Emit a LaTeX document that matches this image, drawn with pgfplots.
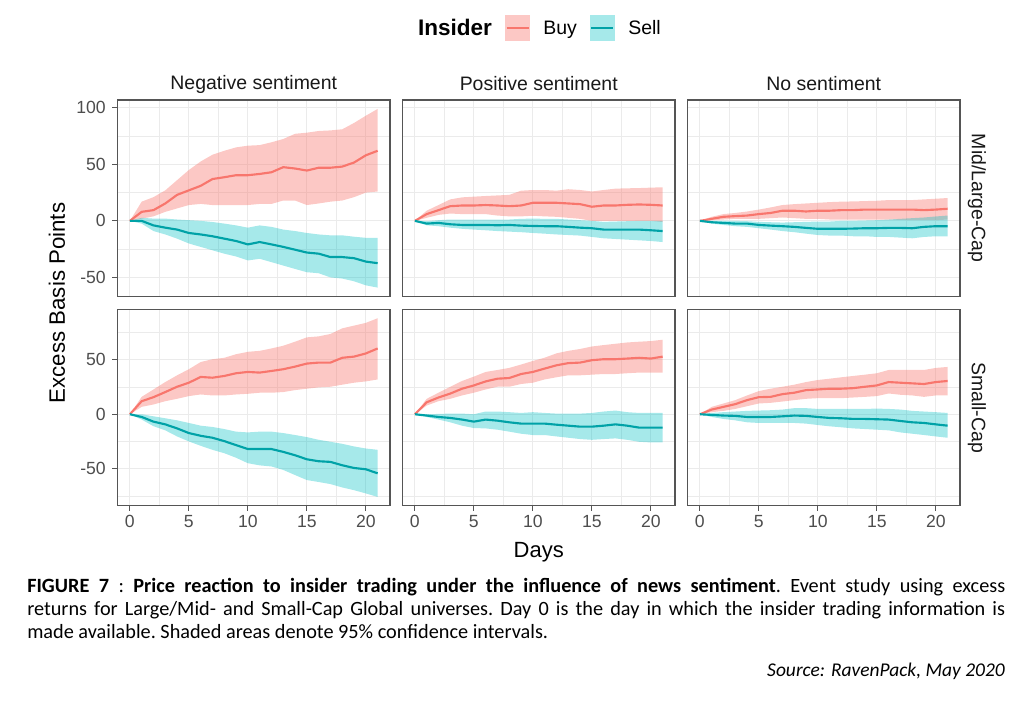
\documentclass[border=0pt]{standalone}
\usepackage{pgfplots}
\pgfplotsset{compat=1.18}
\usepackage{pgfplotstable}
\usepackage{fontspec}
\setmainfont{Liberation Sans}
\newfontfamily\capfont{Carlito}
\definecolor{buy}{HTML}{F8766D}
\definecolor{sell}{HTML}{00BFC4}
\definecolor{gridc}{HTML}{EBEBEB}
\definecolor{framec}{HTML}{555555}
\definecolor{ticklab}{HTML}{4D4D4D}

% mean lines: day, buy mean, sell mean
\pgfplotstableread{
d bm sm
0 0 0
1 8 0
2 9.5 -4
3 15.4 -6
4 23 -7.7
5 27 -10.7
6 31 -12
7 37 -13.6
8 38.6 -15.7
9 40.4 -17.8
10 40.4 -20.8
11 41.5 -18.7
12 43 -20.8
13 47.5 -23
14 46.3 -25.5
15 44.5 -28
16 47 -29
17 47 -32
18 48 -32
19 51.6 -33
20 58 -36
21 62 -37.4
}\tabA
\pgfplotstableread{
d bm sm
0 0 0
1 6 -2.4
2 9.5 -1.8
3 13 -3
4 13.6 -3.6
5 13.6 -3.6
6 14 -3.6
7 13.6 -3.9
8 13 -3.6
9 13.6 -4.2
10 16 -4.5
11 16 -4.7
12 16 -4.7
13 15.4 -5.3
14 14.8 -6
15 12.5 -6.5
16 13.6 -7.7
17 13.6 -7.7
18 14.2 -7.7
19 14.5 -7.7
20 14.2 -8.3
21 13.6 -9
}\tabB
\pgfplotstableread{
d bm sm
0 0 0
1 1.8 -1.2
2 3.6 -1.8
3 4.2 -2.4
4 4.7 -2.4
5 6 -3.6
6 7 -4.2
7 9 -4.7
8 9 -5.3
9 8.3 -6.2
10 9 -7
11 9 -7
12 9.5 -7
13 9.5 -6.8
14 10 -6.5
15 10 -6.5
16 10 -6.2
17 10 -6.2
18 10 -6.5
19 9.5 -5.3
20 10 -4.7
21 10.7 -4.7
}\tabC
\pgfplotstableread{
d bm sm
0 0 0
1 12 -2.5
2 15.7 -6.8
3 20.4 -9.3
4 25.3 -13
5 29 -17.3
6 34.3 -19.8
7 33.6 -21.6
8 35.2 -24.7
9 37.7 -28.4
10 38.9 -32
11 38.3 -32
12 39.8 -32
13 41.4 -34.6
14 43.8 -37.7
15 46.6 -41.4
16 47.5 -43.2
17 47.5 -43.8
18 51.9 -46.9
19 53 -49.4
20 55.9 -50.6
21 60.5 -54.3
}\tabD
\pgfplotstableread{
d bm sm
0 0 0
1 11 -1.2
2 15.4 -2.5
3 19 -3.4
4 23.5 -4.9
5 26.5 -6.8
6 30.2 -4.9
7 32.7 -5.9
8 33.3 -7.4
9 37 -8.6
10 38.9 -8.6
11 42 -8.6
12 45 -9.6
13 47 -10.5
14 47.5 -11.4
15 49.7 -11.4
16 50.6 -10.5
17 50.6 -9.3
18 51.2 -10.5
19 51.9 -12.3
20 51.2 -12.3
21 53 -12.3
}\tabE
\pgfplotstableread{
d bm sm
0 0 0
1 4.3 -0.6
2 6.8 -1.2
3 9.3 -1.5
4 13 -2.5
5 15.7 -2.5
6 16 -2.5
7 18.5 -1.9
8 19.8 -1.2
9 22.2 -1.5
10 22.8 -2.5
11 23.5 -3.4
12 23.5 -3.7
13 24 -4.3
14 25.3 -4.3
15 26.5 -4.6
16 29.6 -4.9
17 29 -6.2
18 28.4 -7.4
19 27.8 -8
20 29.6 -9.3
21 30.6 -10.5
}\tabF

\pgfplotsset{
  panel/.style={
    scale only axis, width=204.4pt, height=147.4pt, anchor=north west,
    xmin=-1.05, xmax=22.05,
    xtick={0,5,10,15,20}, xticklabels={0,5,10,15,20},
    minor xtick={2.5,7.5,12.5,17.5},
    grid=both,
    major grid style={draw=gridc, line width=0.8pt},
    minor grid style={draw=gridc, line width=0.45pt},
    axis line style={draw=framec, line width=0.9pt},
    tick align=outside, major tick length=3.8pt, minor tick length=0pt,
    tick style={draw=framec, line width=0.8pt},
    xtick pos=left, ytick pos=left,
    tick label style={font=\fontsize{13.2}{14}\selectfont, text=ticklab},
    yticklabel style={xshift=-1.5pt},
  },
  toprow/.style={ymin=-66.9, ymax=106.9, ytick={-50,0,50,100}, yticklabels={-50,0,50,100},
    minor ytick={-25,25,75}, xmajorticks=false, xticklabels={}},
  botrow/.style={ymin=-84.2, ymax=96.5, ytick={-50,0,50}, yticklabels={-50,0,50},
    minor ytick={-75,-25,25,75}},
  inner/.style={ymajorticks=false, yticklabels={}},
  bband/.style={fill=buy, fill opacity=0.4, draw=none},
  sband/.style={fill=sell, fill opacity=0.35, draw=none},
  bline/.style={buy, line width=1.6pt},
  sline/.style={sell!85!black, line width=1.6pt},
}

\begin{document}
\begin{tikzpicture}
\path[use as bounding box] (0,0) rectangle (774.75pt,527.25pt);

\coordinate (A) at (88.125pt,452.25pt);
\coordinate (B) at (301.875pt,452.25pt);
\coordinate (C) at (515.625pt,452.25pt);
\coordinate (D) at (88.125pt,295.275pt);
\coordinate (E) at (301.875pt,295.275pt);
\coordinate (F) at (515.625pt,295.275pt);

% Negative sentiment, Mid/Large-Cap
\begin{axis}[panel, toprow, at={(A)}]
\addplot[bband] coordinates {(0,0)(1,17)(2,21)(3,27)(4,36)(5,45)(6,52.5)(7,58.5)(8,62)(9,65)(10,66.5)(11,67)(12,69.5)(13,72.4)(14,77)(15,78)(16,79.5)(17,80)(18,81)(19,86.6)(20,93)(21,99)
 (21,26)(20,25)(19,21)(18,18)(17,17)(16,15.4)(15,14)(14,18)(13,18)(12,15)(11,15)(10,14)(9,14)(8,14)(7,14)(6,15)(5,14)(4,11)(3,8)(2,4)(1,2)} -- cycle;
\addplot[sband] coordinates {(0,0)(1,2.7)(2,2)(3,2)(4,1.2)(5,0.6)(6,0)(7,-1)(8,-2.4)(9,-4)(10,-6)(11,-4)(12,-5.3)(13,-7.7)(14,-9)(15,-10.7)(16,-12)(17,-12.8)(18,-12.8)(19,-14)(20,-15)(21,-15)
 (21,-59)(20,-57)(19,-53.4)(18,-51)(17,-50)(16,-46.3)(15,-45.4)(14,-42.5)(13,-39.5)(12,-36.5)(11,-33.5)(10,-35)(9,-31.5)(8,-29)(7,-26)(6,-23)(5,-20)(4,-15.7)(3,-12)(2,-9)(1,-2.4)} -- cycle;
\addplot[bline] table[x=d,y=bm]{\tabA};
\addplot[sline] table[x=d,y=sm]{\tabA};
\end{axis}

% Positive sentiment, Mid/Large-Cap
\begin{axis}[panel, toprow, inner, at={(B)}]
\addplot[bband] coordinates {(0,0)(1,9)(2,14)(3,19)(4,20.8)(5,21.4)(6,22)(7,22.5)(8,23)(9,26.7)(10,27.3)(11,27.3)(12,26.7)(13,28)(14,27.3)(15,26)(16,27.3)(17,28.5)(18,28.8)(19,29)(20,29.4)(21,29.7)
 (21,-1)(20,0)(19,0)(18,0)(17,0)(16,0)(15,0)(14,1.8)(13,2.7)(12,3.6)(11,4)(10,4.5)(9,4)(8,4)(7,4.7)(6,6)(5,6)(4,6)(3,6.5)(2,5.3)(1,2.7)} -- cycle;
\addplot[sband] coordinates {(0,0)(1,-0.3)(2,0.6)(3,1.2)(4,1.2)(5,1.2)(6,1.2)(7,1.2)(8,1.2)(9,1.8)(10,2)(11,1.8)(12,1.8)(13,1.2)(14,0.6)(15,0)(16,-0.9)(17,-0.6)(18,-0.3)(19,0)(20,0)(21,0)
 (21,-18.7)(20,-17.8)(19,-17.2)(18,-16.6)(17,-16)(16,-15.4)(15,-14.2)(14,-13)(13,-12.5)(12,-12)(11,-11.3)(10,-10.7)(9,-10)(8,-9.5)(7,-9)(6,-8.3)(5,-7.7)(4,-7)(3,-6)(2,-4.7)(1,-3.9)} -- cycle;
\addplot[bline] table[x=d,y=bm]{\tabB};
\addplot[sline] table[x=d,y=sm]{\tabB};
\end{axis}

% No sentiment, Mid/Large-Cap
\begin{axis}[panel, toprow, inner, at={(C)}]
\addplot[bband] coordinates {(0,0)(1,3.6)(2,6)(3,7)(4,8.3)(5,10)(6,11.9)(7,14)(8,14.8)(9,15.4)(10,16)(11,16.6)(12,17)(13,17.2)(14,17.5)(15,17.8)(16,18.4)(17,18.4)(18,18.4)(19,19)(20,19.6)(21,20.2)
 (21,1.2)(20,0.6)(19,0.6)(18,0.6)(17,0.9)(16,1.2)(15,1.2)(14,1.2)(13,1.2)(12,1.2)(11,1.2)(10,1.8)(9,1.8)(8,2.4)(7,3)(6,2.4)(5,1.8)(4,1.8)(3,1.8)(2,1.2)(1,0.6)} -- cycle;
\addplot[sband] coordinates {(0,0)(1,0)(2,0)(3,0)(4,-0.3)(5,-0.9)(6,-1.2)(7,-1.5)(8,-1.2)(9,-0.9)(10,-0.6)(11,-0.6)(12,0)(13,0)(14,0.3)(15,0.6)(16,1.2)(17,1.8)(18,2.4)(19,3)(20,3.9)(21,4.7)
 (21,-13.6)(20,-13.6)(19,-14.2)(18,-15.4)(17,-14.8)(16,-14.2)(15,-14.2)(14,-13.6)(13,-13.6)(12,-13)(11,-13)(10,-12.5)(9,-11.3)(8,-10)(7,-9)(6,-7.7)(5,-6.5)(4,-5.3)(3,-4.7)(2,-3.6)(1,-2.4)} -- cycle;
\addplot[bline] table[x=d,y=bm]{\tabC};
\addplot[sline] table[x=d,y=sm]{\tabC};
\end{axis}

% Negative sentiment, Small-Cap
\begin{axis}[panel, botrow, at={(D)}]
\addplot[bband] coordinates {(0,0)(1,16)(2,22.8)(3,29.6)(4,35.8)(5,41.4)(6,48)(7,50.6)(8,51.9)(9,55.2)(10,57.4)(11,58.3)(12,60.5)(13,63)(14,66.7)(15,70.7)(16,71.6)(17,73.8)(18,79)(19,81.5)(20,84)(21,88.3)
 (21,32)(20,30.2)(19,29)(18,27.2)(17,25.3)(16,24.7)(15,23.5)(14,22.2)(13,20.4)(12,19.8)(11,19.8)(10,18.8)(9,18.2)(8,17.3)(7,17.3)(6,18.2)(5,16.7)(4,14.2)(3,12)(2,9)(1,6.8)} -- cycle;
\addplot[sband] coordinates {(0,0)(1,0)(2,-1.9)(3,-3.7)(4,-5.6)(5,-8)(6,-10.5)(7,-11.7)(8,-13.6)(9,-16)(10,-16.7)(11,-16)(12,-16)(13,-17.3)(14,-19.1)(15,-21)(16,-23.5)(17,-25.3)(18,-27.2)(19,-29.6)(20,-31.5)(21,-32.7)
 (21,-76)(20,-72.8)(19,-69.8)(18,-67.3)(17,-64.2)(16,-62.3)(15,-60.5)(14,-55.9)(13,-51.2)(12,-48)(11,-47)(10,-45)(9,-40)(8,-35.8)(7,-32.7)(6,-29)(5,-25)(4,-20.4)(3,-14.8)(2,-11)(1,-4.9)} -- cycle;
\addplot[bline] table[x=d,y=bm]{\tabD};
\addplot[sline] table[x=d,y=sm]{\tabD};
\end{axis}

% Positive sentiment, Small-Cap
\begin{axis}[panel, botrow, inner, at={(E)}]
\addplot[bband] coordinates {(0,0)(1,14.2)(2,19.8)(3,25.3)(4,30.6)(5,34.6)(6,38.9)(7,40.7)(8,42.6)(9,45.7)(10,49)(11,52)(12,56)(13,58.3)(14,60)(15,62.3)(16,63.6)(17,64.8)(18,66)(19,66.7)(20,67.3)(21,68.5)
 (21,38.3)(20,38.3)(19,38.3)(18,37.7)(17,37)(16,37)(15,36.4)(14,35.8)(13,35.8)(12,34)(11,32)(10,29)(9,27.8)(8,25.3)(7,25.3)(6,22.8)(5,19.8)(4,17.3)(3,14.2)(2,12)(1,8)} -- cycle;
\addplot[sband] coordinates {(0,0)(1,0)(2,0.3)(3,0.6)(4,0.6)(5,0)(6,2.5)(7,2.5)(8,1.9)(9,1.2)(10,1.9)(11,1.2)(12,0.6)(13,0.6)(14,0.6)(15,1.2)(16,2.5)(17,3.4)(18,1.9)(19,1.2)(20,1.2)(21,1.2)
 (21,-25.9)(20,-25.9)(19,-25.3)(18,-23.5)(17,-22.2)(16,-22.8)(15,-23.5)(14,-22.8)(13,-21.6)(12,-20.4)(11,-19.1)(10,-19.1)(9,-17.9)(8,-16)(7,-14.2)(6,-13)(5,-12.7)(4,-10.5)(3,-7.4)(2,-4.9)(1,-2.5)} -- cycle;
\addplot[bline] table[x=d,y=bm]{\tabE};
\addplot[sline] table[x=d,y=sm]{\tabE};
\end{axis}

% No sentiment, Small-Cap
\begin{axis}[panel, botrow, inner, at={(F)}]
\addplot[bband] coordinates {(0,0)(1,6.8)(2,9.9)(3,13)(4,17.3)(5,21.3)(6,23.5)(7,25.3)(8,27.2)(9,29.6)(10,31.5)(11,32.7)(12,34)(13,35.2)(14,36.4)(15,37.7)(16,40.7)(17,40.7)(18,40.7)(19,40.7)(20,42.6)(21,43.5)
 (21,17.3)(20,17.3)(19,16)(18,17.3)(17,17.9)(16,19.1)(15,16.7)(14,16)(13,15.4)(12,14.8)(11,14.8)(10,14.8)(9,14.2)(8,13)(7,11.7)(6,10.5)(5,9.9)(4,7.4)(3,4.9)(2,3.1)(1,1.9)} -- cycle;
\addplot[sband] coordinates {(0,0)(1,1.2)(2,1.9)(3,2.5)(4,3.1)(5,3.4)(6,3.7)(7,4.3)(8,5.6)(9,5.6)(10,4.9)(11,4.9)(12,4.9)(13,4.9)(14,4.9)(15,5.2)(16,4.9)(17,4.3)(18,3.1)(19,2.5)(20,1.9)(21,1.2)
 (21,-21.6)(20,-20.4)(19,-19.1)(18,-17.9)(17,-16.7)(16,-14.8)(15,-14.2)(14,-13.6)(13,-13)(12,-12)(11,-11.1)(10,-9.9)(9,-8.6)(8,-8)(7,-8)(6,-8)(5,-8)(4,-7.4)(3,-5.6)(2,-4.3)(1,-2.5)} -- cycle;
\addplot[bline] table[x=d,y=bm]{\tabF};
\addplot[sline] table[x=d,y=sm]{\tabF};
\end{axis}

% strip labels
\begin{scope}[every node/.style={font=\fontsize{14.6}{16}\selectfont, text=black!90}]
\node at (190.31pt,464.25pt) {Negative sentiment};
\node at (404.06pt,464.25pt) {Positive sentiment};
\node at (617.81pt,464.25pt) {No sentiment};
\node[rotate=-90] at (732.75pt,378.53pt) {Mid/Large-Cap};
\node[rotate=-90] at (732.75pt,221.63pt) {Small-Cap};
\end{scope}

% axis titles
\node[rotate=90, font=\fontsize{16.7}{18}\selectfont] at (42.75pt,300pt) {Excess Basis Points};
\node[font=\fontsize{16.5}{18}\selectfont] at (404.06pt,113.25pt) {Days};

% legend
\node[anchor=base, inner sep=0pt, font=\fontsize{16.9}{18}\selectfont\bfseries] at (341.25pt,500.5pt) {Insider};
\fill[buy, fill opacity=0.4] (378.75pt,496.73pt) rectangle (397.5pt,515.78pt);
\draw[buy, line width=1.6pt] (379.9pt,506.25pt) -- (396.4pt,506.25pt);
\node[anchor=base west, inner sep=0pt, font=\fontsize{14.6}{16}\selectfont] at (407.25pt,501pt) {Buy};
\fill[sell, fill opacity=0.35] (442.13pt,496.73pt) rectangle (461.25pt,515.78pt);
\draw[sell!85!black, line width=1.6pt] (443.25pt,506.25pt) -- (460.1pt,506.25pt);
\node[anchor=base west, inner sep=0pt, font=\fontsize{14.6}{16}\selectfont] at (471pt,501pt) {Sell};

% caption
\node[anchor=base west, inner sep=0pt] at (20.25pt,82.5pt) {\parbox[t]{733.5pt}{\capfont\fontsize{15.2}{17.25}\selectfont\frenchspacing\noindent
\textbf{FIGURE 7} : \textbf{Price reaction to insider trading under the influence of news sentiment}. Event study using excess\linebreak
returns for Large/Mid- and Small-Cap Global universes. Day 0 is the day in which the insider trading information is\linebreak
made available. Shaded areas denote 95\% confidence intervals.}};
\node[anchor=base east, inner sep=0pt, font=\capfont\itshape\fontsize{14.6}{16}\selectfont] at (753.75pt,19.5pt) {Source: RavenPack, May 2020};
\end{tikzpicture}
\end{document}
